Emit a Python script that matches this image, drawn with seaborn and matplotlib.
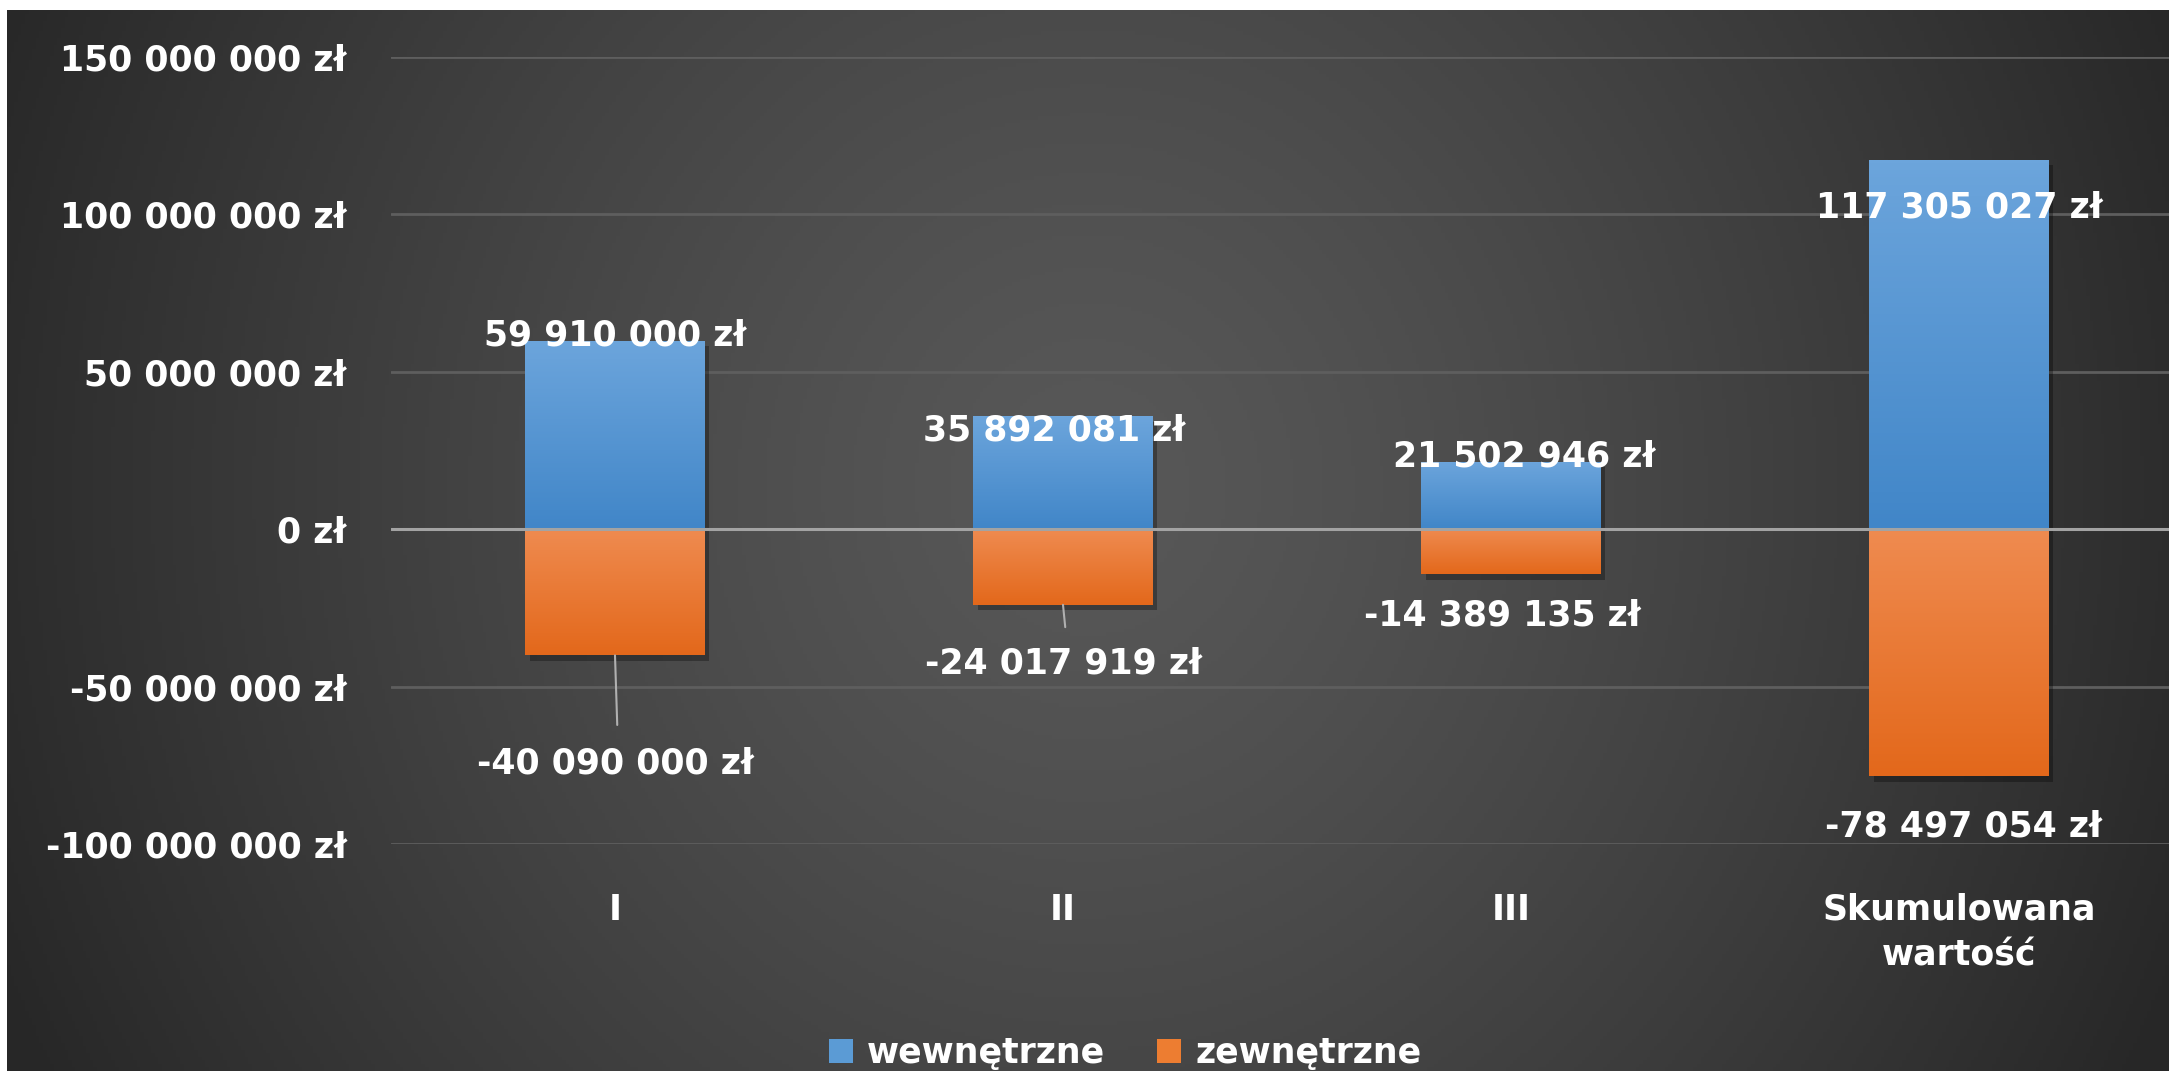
import numpy as np
import pandas as pd
import matplotlib
matplotlib.use('Agg')
import matplotlib.pyplot as plt
import matplotlib.patheffects as pe
from matplotlib.ticker import FuncFormatter
import seaborn as sns

# dane z wykresu
categories = ['I', 'II', 'III', 'Skumulowana\nwartość']
internal = [59910000, 35892081, 21502946, 117305027]
external = [-40090000, -24017919, -14389135, -78497054]
series_names = ['wewnętrzne', 'zewnętrzne']

# przesuniecia etykiet (uklad, nie dane) w mln zl / jednostkach kategorii
pos_dy = [1.7, -4.5, 1.7, -15.1]
pos_dx = [0.0, -0.02, 0.03, 0.0]
neg_dy = [-34.2, -18.5, -12.9, -16.1]
neg_dx = [0.0, 0.0, -0.02, 0.01]
leader_end = [-22.1, -7.1, None, None]  # dlugosc linii odniesienia od konca slupka

sns.set_theme(style='dark')
plt.rcParams['font.family'] = ['DejaVu Sans']
plt.rcParams['font.weight'] = 'bold'
plt.rcParams['patch.edgecolor'] = 'none'

W, H = 2169, 1071
fig = plt.figure(figsize=(W / 100, H / 100), dpi=100, facecolor='white')

# tlo z gradientem radialnym
bg = fig.add_axes([7 / W, 0, 1 - 7 / W, 1 - 10 / H])
yy, xx = np.mgrid[0:1:300j, 0:1:600j]
d = np.sqrt(((xx - 0.5) / 0.55) ** 2 + ((yy - 0.45) / 1.2) ** 2)
d = np.clip(d, 0, 1)[..., None]
c0 = np.array([0x58, 0x58, 0x58]) / 255
c1 = np.array([0x27, 0x27, 0x27]) / 255
bg.imshow(c0 + (c1 - c0) * d ** 1.3, aspect='auto', extent=[0, 1, 0, 1])
bg.axis('off')

ax = fig.add_axes([391 / W, (H - 844) / H, 1792 / W, 787 / H])
ax.patch.set_alpha(0)

df = pd.DataFrame({'kat': categories, 'wew': internal, 'zew': external})
sns.barplot(data=df, x='kat', y='wew', color='#5b9bd5', width=0.4, saturation=1,
            label=series_names[0], ax=ax)
sns.barplot(data=df, x='kat', y='zew', color='#ed7d31', width=0.4, saturation=1,
            label=series_names[1], ax=ax)

leg = ax.legend(loc='center', bbox_to_anchor=(1125 / W, 18 / H), bbox_transform=fig.transFigure,
                ncol=2, frameon=False, fontsize=25, handlelength=0.7, handleheight=0.7,
                handletextpad=0.4, columnspacing=1.5)
for t in leg.get_texts():
    t.set_color('white')
for hnd in leg.legend_handles:
    hnd.set_edgecolor('none')

# gradient na slupkach
grad_cols = {True: ('#6ca5dc', '#4186c8'), False: ('#ef8b50', '#e3681b')}
for p in ax.patches:
    h = p.get_height()
    if h == 0:
        continue
    x0, w, y = p.get_x(), p.get_width(), p.get_y()
    ylo, yhi = min(y, y + h), max(y, y + h)
    top, bot = grad_cols[h > 0]
    t = np.linspace(0, 1, 100)[:, None, None]
    ct = np.array(matplotlib.colors.to_rgb(top))
    cb = np.array(matplotlib.colors.to_rgb(bot))
    g = ct + (cb - ct) * t
    p.set_edgecolor('none')
    p.set_path_effects([pe.SimplePatchShadow(offset=(3, -4), shadow_rgbFace='black', alpha=0.3),
                        pe.Normal()])
    im = ax.imshow(g, extent=[x0, x0 + w, ylo, yhi], aspect='auto', origin='upper',
                   zorder=p.get_zorder() + 0.1)
    im.set_clip_path(p)


def zl(v, pos=None):
    return f"{v:,.0f}".replace(',', ' ') + ' zł'


ax.set_xlim(-0.5, 3.5)
ax.set_ylim(-100e6, 150e6)
ax.set_yticks(np.arange(-100e6, 150e6 + 1, 50e6))
ax.yaxis.set_major_formatter(FuncFormatter(zl))
ax.grid(axis='y', color='#5e5e5e', lw=2)
ax.grid(axis='x', visible=False)
ax.set_axisbelow(True)
ax.axhline(0, color='#a3a3a3', lw=2.2, zorder=5)
for s in ax.spines.values():
    s.set_visible(False)
ax.set_xlabel('')
ax.set_ylabel('')
ax.tick_params(axis='y', colors='white', labelsize=25, length=0, pad=32)
ax.tick_params(axis='x', colors='white', labelsize=25, length=0, pad=35)
for lbl in ax.get_xticklabels():
    lbl.set_linespacing(1.45)

# etykiety danych
for i in range(len(categories)):
    ax.text(i + pos_dx[i], internal[i] + pos_dy[i] * 1e6, zl(internal[i]), color='white',
            fontsize=25, ha='center', va='center', zorder=6)
    ax.text(i + neg_dx[i], external[i] + neg_dy[i] * 1e6, zl(external[i]), color='white',
            fontsize=25, ha='center', va='center', zorder=6)
    if leader_end[i] is not None:
        ax.plot([i, i + 0.005], [external[i], external[i] + leader_end[i] * 1e6],
                color='#b0b0b0', lw=1.5, zorder=6)

fig.savefig('out.png', dpi=100)
